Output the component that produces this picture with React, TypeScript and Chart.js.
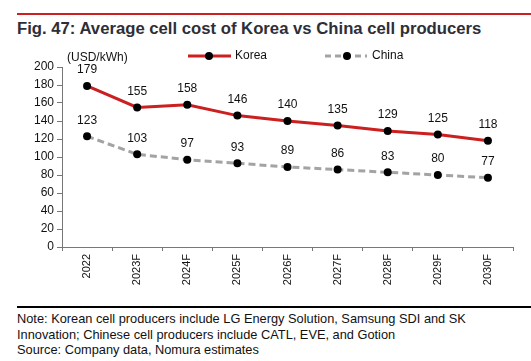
import React, { useEffect, useRef } from "react";
import { Chart, registerables } from "chart.js";

Chart.register(...registerables);

const categories = ["2022", "2023F", "2024F", "2025F", "2026F", "2027F", "2028F", "2029F", "2030F"];
const koreaValues = [179, 155, 158, 146, 140, 135, 129, 125, 118];
const chinaValues = [123, 103, 97, 93, 89, 86, 83, 80, 77];
const yTicks = [0, 20, 40, 60, 80, 100, 120, 140, 160, 180, 200];

const FONT = "'Liberation Sans', Arial, sans-serif";
const RED = "#cc1f1f";
const GRAY = "#a3a3a3";

const overlayPlugin = {
  id: "overlay",
  afterDatasetsDraw(chart: any) {
    const ctx = chart.ctx;
    ctx.save();
    ctx.font = `12px ${FONT}`;
    ctx.fillStyle = "#111";
    ctx.textAlign = "center";
    ctx.textBaseline = "middle";
    chart.data.datasets.forEach((ds: any, i: number) => {
      const meta = chart.getDatasetMeta(i);
      meta.data.forEach((pt: any, j: number) => {
        ctx.fillText(String(ds.data[j]), pt.x, pt.y - 16);
      });
    });
    // unit label
    ctx.textAlign = "left";
    ctx.fillText("(USD/kWh)", 67, 18);
    // legend
    const ly = 16;
    ctx.lineWidth = 3;
    ctx.strokeStyle = RED;
    ctx.setLineDash([]);
    ctx.beginPath();
    ctx.moveTo(188, ly);
    ctx.lineTo(231, ly);
    ctx.stroke();
    ctx.fillStyle = "#000";
    ctx.beginPath();
    ctx.arc(209, ly, 4, 0, Math.PI * 2);
    ctx.fill();
    ctx.strokeStyle = GRAY;
    ctx.setLineDash([6, 4]);
    ctx.beginPath();
    ctx.moveTo(325, ly);
    ctx.lineTo(367, ly);
    ctx.stroke();
    ctx.setLineDash([]);
    ctx.beginPath();
    ctx.arc(347, ly, 4, 0, Math.PI * 2);
    ctx.fill();
    ctx.fillStyle = "#111";
    ctx.fillText("Korea", 235, ly);
    ctx.fillText("China", 372, ly);
    ctx.restore();
  },
};

function ChartBox() {
  const ref = useRef<HTMLCanvasElement>(null);
  useEffect(() => {
    if (!ref.current) return;
    const chart = new Chart(ref.current, {
      type: "line",
      data: {
        labels: categories,
        datasets: [
          {
            label: "Korea",
            data: koreaValues,
            borderColor: RED,
            borderWidth: 3,
            pointRadius: 4,
            pointBackgroundColor: "#000",
            pointBorderColor: "#000",
            pointBorderWidth: 0,
            tension: 0,
          },
          {
            label: "China",
            data: chinaValues,
            borderColor: GRAY,
            borderWidth: 3,
            borderDash: [7, 4],
            pointRadius: 4,
            pointBackgroundColor: "#000",
            pointBorderColor: "#000",
            pointBorderWidth: 0,
            tension: 0,
          },
        ],
      },
      options: {
        animation: false,
        responsive: false,
        maintainAspectRatio: false,
        layout: { padding: { top: 27, right: 18, left: 0, bottom: 0 } },
        plugins: { legend: { display: false }, tooltip: { enabled: false } },
        scales: {
          x: {
            offset: true,
            grid: {
              offset: true,
              drawOnChartArea: false,
              drawTicks: true,
              tickLength: 4,
              color: "#777",
            },
            border: { display: true, color: "#777", width: 1 },
            ticks: {
              minRotation: 90,
              maxRotation: 90,
              autoSkip: false,
              padding: 3,
              color: "#111",
              font: { family: FONT, size: 11 },
            },
            afterFit(scale: any) {
              scale.height = 58;
            },
          },
          y: {
            min: 0,
            max: 200,
            afterBuildTicks(scale: any) {
              scale.ticks = yTicks.map((v) => ({ value: v }));
            },
            grid: {
              drawOnChartArea: false,
              drawTicks: true,
              tickLength: 5,
              color: "#777",
            },
            border: { display: true, color: "#777", width: 1 },
            ticks: {
              padding: 3,
              color: "#111",
              font: { family: FONT, size: 12 },
            },
            afterFit(scale: any) {
              scale.width = 62;
            },
          },
        },
      },
      plugins: [overlayPlugin],
    } as any);
    return () => chart.destroy();
  }, []);
  return <canvas ref={ref} width={531} height={265} style={{ display: "block", width: 531, height: 265 }} />;
}

export default function App() {
  return (
    <div
      style={{
        position: "absolute",
        left: 0,
        top: 0,
        width: 531,
        height: 361,
        background: "#fff",
        fontFamily: FONT,
        overflow: "hidden",
      }}
    >
      <div style={{ position: "absolute", left: 17, right: 0, top: 13, height: 2, background: RED }} />
      <div
        style={{
          position: "absolute",
          left: 17,
          top: 19,
          fontSize: 16.7,
          fontWeight: "bold",
          color: "#2e2e38",
          whiteSpace: "nowrap",
          lineHeight: "20px",
        }}
      >
        Fig. 47: Average cell cost of Korea vs China cell producers
      </div>
      <div style={{ position: "absolute", left: 0, top: 40 }}>
        <ChartBox />
      </div>
      <div style={{ position: "absolute", left: 17, right: 0, top: 306, height: 2, background: "#000" }} />
      <div
        style={{
          position: "absolute",
          left: 17,
          top: 311,
          width: 510,
          fontSize: 12.8,
          lineHeight: "15.5px",
          color: "#111",
          whiteSpace: "nowrap",
        }}
      >
        <div>Note: Korean cell producers include LG Energy Solution, Samsung SDI and SK</div>
        <div>Innovation; Chinese cell producers include CATL, EVE, and Gotion</div>
        <div>Source: Company data, Nomura estimates</div>
      </div>
    </div>
  );
}
